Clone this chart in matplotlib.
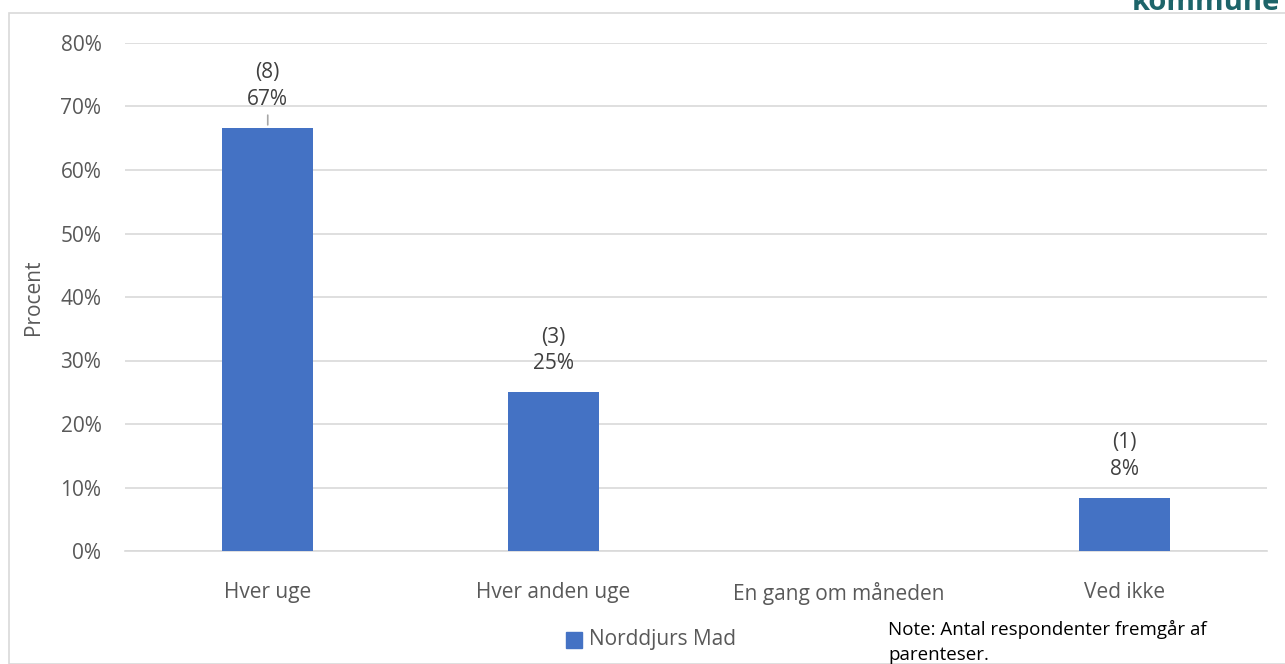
import matplotlib.pyplot as plt
from matplotlib.patches import Rectangle

kategorier = ['Hver uge', 'Hver anden uge', 'En gang om måneden', 'Ved ikke']
antal = [8, 3, 0, 1]
procent = [66.67, 25.0, 0.0, 8.33]
serie = 'Norddjurs Mad'

plt.rcParams['font.family'] = ['Open Sans', 'DejaVu Sans']

W, H = 1285, 664
fig = plt.figure(figsize=(W / 100, H / 100), dpi=100)

# ramme om diagrammet
fig.patches.append(Rectangle((9 / W, 0), 1.0, 1 - 13 / H, transform=fig.transFigure,
                             fill=False, edgecolor='#d9d9d9', linewidth=1.2))
fig.text(1132 / W, 1 - 10 / H, 'kommune', color='#1d6469', fontsize=21,
         fontweight='bold', va='baseline', ha='left')

ax = fig.add_axes([125 / W, 1 - 551 / H, (1267 - 125) / W, (551 - 43) / H])
x = range(len(kategorier))
ax.bar(x, procent, width=0.32, color='#4472c4', zorder=3)

ax.set_xlim(-0.5, len(kategorier) - 0.5)
ax.set_ylim(0, 80)
ax.set_yticks(range(0, 81, 10))
ax.set_yticklabels([f'{v}%' for v in range(0, 81, 10)])
ax.set_xticks(list(x))
ax.set_xticklabels(kategorier)
ax.grid(axis='y', color='#d9d9d9', linewidth=1.2, zorder=0)
for s in ['top', 'right', 'left']:
    ax.spines[s].set_visible(False)
ax.spines['bottom'].set_color('#d9d9d9')
ax.spines['bottom'].set_linewidth(1.2)
ax.tick_params(length=0, labelsize=15, labelcolor='#595959')
ax.tick_params(axis='x', pad=22)
ax.tick_params(axis='y', pad=17)
ax.set_ylabel('Procent', fontsize=15, color='#595959', labelpad=12)

for i, (n, p) in enumerate(zip(antal, procent)):
    if n == 0:
        continue
    lbl = f'({n})\n{p:.0f}%'
    ax.annotate(lbl, (i, p), xytext=(0, 13), textcoords='offset points',
                ha='center', va='bottom', fontsize=15, color='#404040',
                linespacing=1.35, zorder=4)
    if p > 60:
        ax.annotate('', (i, p), xytext=(0, 11), textcoords='offset points',
                    arrowprops=dict(arrowstyle='-', color='#a6a6a6', lw=1.2))

fig.patches.append(Rectangle((566 / W, 1 - 648 / H), 16 / W, 16 / H,
                             transform=fig.transFigure, color='#4472c4'))
fig.text(589 / W, 1 - 640 / H, serie, fontsize=15, color='#595959', va='center')
fig.text(888 / W, 1 - 642 / H, 'Note: Antal respondenter fremgår af\nparenteser.',
         fontsize=13.5, color='black', va='center', linespacing=1.5,
         family=['Liberation Sans Narrow', 'Open Sans', 'DejaVu Sans'])

fig.savefig('out.png', dpi=100)
